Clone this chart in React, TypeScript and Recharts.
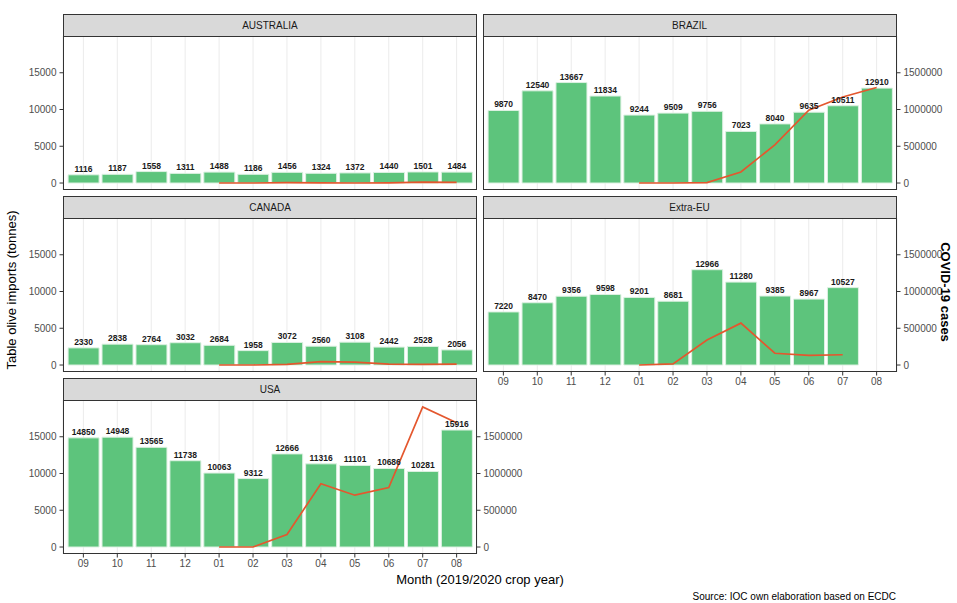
import { ComposedChart, Bar, Line, XAxis, YAxis, CartesianGrid, LabelList } from "recharts";

// months of the 2019/2020 crop year
const MONTHS = ["09", "10", "11", "12", "01", "02", "03", "04", "05", "06", "07", "08"];

// table olive imports (tonnes)
const AUSTRALIA_IMPORTS = [1116, 1187, 1558, 1311, 1488, 1186, 1456, 1324, 1372, 1440, 1501, 1484];
const BRAZIL_IMPORTS = [9870, 12540, 13667, 11834, 9244, 9509, 9756, 7023, 8040, 9635, 10511, 12910];
const CANADA_IMPORTS = [2330, 2838, 2764, 3032, 2684, 1958, 3072, 2560, 3108, 2442, 2528, 2056];
const EXTRA_EU_IMPORTS = [7220, 8470, 9356, 9598, 9201, 8681, 12966, 11280, 9385, 8967, 10527, null];
const USA_IMPORTS = [14850, 14948, 13565, 11738, 10063, 9312, 12666, 11316, 11101, 10686, 10281, 15916];

// monthly COVID-19 cases
const AUSTRALIA_CASES = [null, null, null, null, 10, 15, 4500, 2200, 400, 900, 11000, 8000];
const BRAZIL_CASES = [null, null, null, null, 0, 2, 5700, 150000, 520000, 990000, 1170000, 1300000];
const CANADA_CASES = [null, null, null, null, 4, 20, 8000, 45000, 40000, 12000, 10000, 12000];
const EXTRA_EU_CASES = [null, null, null, null, 10, 15000, 340000, 570000, 160000, 130000, 140000, null];
const USA_CASES = [null, null, null, null, 10, 50, 170000, 860000, 705000, 810000, 1905000, 1690000];

const LEFT_TICKS = [0, 5000, 10000, 15000];
const RIGHT_TICKS = [0, 500000, 1000000, 1500000];

const PANEL_W = 414;
const PANEL_H = 154;
const AXIS_W = 60;
const STRIP_H = 22;
const FONT = '"Liberation Sans", Arial, sans-serif';

type FacetProps = {
  title: string;
  imports: (number | null)[];
  cases: (number | null)[];
  left: number;
  top: number;
  showLeft?: boolean;
  showRight?: boolean;
  showX?: boolean;
};

function Facet({ title, imports, cases, left, top, showLeft, showRight, showX }: FacetProps) {
  const data = MONTHS.map((m, i) => ({ month: m, imports: imports[i], cases: cases[i] }));
  const w = PANEL_W + (showLeft ? AXIS_W : 0) + (showRight ? AXIS_W : 0);
  const h = PANEL_H + (showX ? 30 : 0);
  const pad = (PANEL_W / 12.2) * 0.1;
  const tick = { fontSize: 10, fill: "#4D4D4D" };

  return (
    <>
      <div
        style={{
          position: "absolute",
          left,
          top: top - STRIP_H,
          width: PANEL_W,
          height: STRIP_H + 1,
          boxSizing: "border-box",
          background: "#D9D9D9",
          border: "1px solid #333",
          textAlign: "center",
          lineHeight: `${STRIP_H - 1}px`,
          fontSize: 10,
          color: "#1A1A1A",
        }}
      >
        {title}
      </div>
      <div style={{ position: "absolute", left: left - (showLeft ? AXIS_W : 0), top }}>
        <ComposedChart
          width={w}
          height={h}
          data={data}
          margin={{ top: 0, right: 0, bottom: 0, left: 0 }}
          barCategoryGap="5%"
        >
          <CartesianGrid yAxisId="left" horizontal={false} stroke="#EBEBEB" />
          <XAxis
            dataKey="month"
            hide={!showX}
            height={30}
            padding={{ left: pad, right: pad }}
            tick={tick}
            tickLine={{ stroke: "#333" }}
            tickSize={3.5}
            tickMargin={2}
            axisLine={false}
            interval={0}
          />
          <YAxis
            yAxisId="left"
            hide={!showLeft}
            width={AXIS_W}
            type="number"
            domain={[-950, 20000]}
            allowDataOverflow
            ticks={LEFT_TICKS}
            tick={tick}
            tickLine={{ stroke: "#333" }}
            tickSize={3.5}
            tickMargin={3}
            axisLine={false}
          />
          <YAxis
            yAxisId="right"
            orientation="right"
            hide={!showRight}
            width={AXIS_W}
            type="number"
            domain={[-95000, 2000000]}
            allowDataOverflow
            ticks={RIGHT_TICKS}
            tick={tick}
            tickLine={{ stroke: "#333" }}
            tickSize={3.5}
            tickMargin={3}
            axisLine={false}
          />
          <Bar
            yAxisId="left"
            dataKey="imports"
            fill="#5DC47C"
            stroke="#DDF1E2"
            strokeWidth={1}
            isAnimationActive={false}
          >
            <LabelList
              dataKey="imports"
              position="top"
              offset={3}
              fontSize={8.5}
              fontWeight="bold"
              fill="#1A1A1A"
            />
          </Bar>
          <Line
            yAxisId="right"
            dataKey="cases"
            type="linear"
            stroke="#E4572E"
            strokeWidth={1.7}
            dot={false}
            connectNulls={false}
            isAnimationActive={false}
          />
        </ComposedChart>
      </div>
      <div
        style={{
          position: "absolute",
          left,
          top,
          width: PANEL_W,
          height: PANEL_H,
          boxSizing: "border-box",
          border: "1px solid #333",
          pointerEvents: "none",
        }}
      />
    </>
  );
}

export default function App() {
  const colL = 63;
  const colR = 482.5;
  const rows = [36, 218, 400];

  return (
    <div
      style={{
        position: "absolute",
        left: 0,
        top: 0,
        width: 957,
        height: 603,
        background: "#fff",
        fontFamily: FONT,
        overflow: "hidden",
      }}
    >
      <Facet title="AUSTRALIA" imports={AUSTRALIA_IMPORTS} cases={AUSTRALIA_CASES} left={colL} top={rows[0]} showLeft />
      <Facet title="BRAZIL" imports={BRAZIL_IMPORTS} cases={BRAZIL_CASES} left={colR} top={rows[0]} showRight />
      <Facet title="CANADA" imports={CANADA_IMPORTS} cases={CANADA_CASES} left={colL} top={rows[1]} showLeft />
      <Facet title="Extra-EU" imports={EXTRA_EU_IMPORTS} cases={EXTRA_EU_CASES} left={colR} top={rows[1]} showRight showX />
      <Facet title="USA" imports={USA_IMPORTS} cases={USA_CASES} left={colL} top={rows[2]} showLeft showRight showX />

      <div
        style={{
          position: "absolute",
          left: 12 - 150,
          top: 290 - 8,
          width: 300,
          height: 16,
          lineHeight: "16px",
          textAlign: "center",
          fontSize: 13,
          color: "#000",
          transform: "rotate(-90deg)",
        }}
      >
        Table olive imports (tonnes)
      </div>
      <div
        style={{
          position: "absolute",
          left: 945 - 150,
          top: 292 - 8,
          width: 300,
          height: 16,
          lineHeight: "16px",
          textAlign: "center",
          fontSize: 13,
          fontWeight: "bold",
          color: "#000",
          transform: "rotate(90deg)",
        }}
      >
        COVID-19 cases
      </div>
      <div
        style={{
          position: "absolute",
          left: 480 - 200,
          top: 572,
          width: 400,
          height: 16,
          lineHeight: "16px",
          textAlign: "center",
          fontSize: 13,
          color: "#000",
        }}
      >
        Month (2019/2020 crop year)
      </div>
      <div
        style={{
          position: "absolute",
          right: 957 - 896,
          top: 590,
          height: 14,
          lineHeight: "14px",
          fontSize: 10,
          color: "#000",
          whiteSpace: "nowrap",
        }}
      >
        Source: IOC own elaboration based on ECDC
      </div>
    </div>
  );
}
